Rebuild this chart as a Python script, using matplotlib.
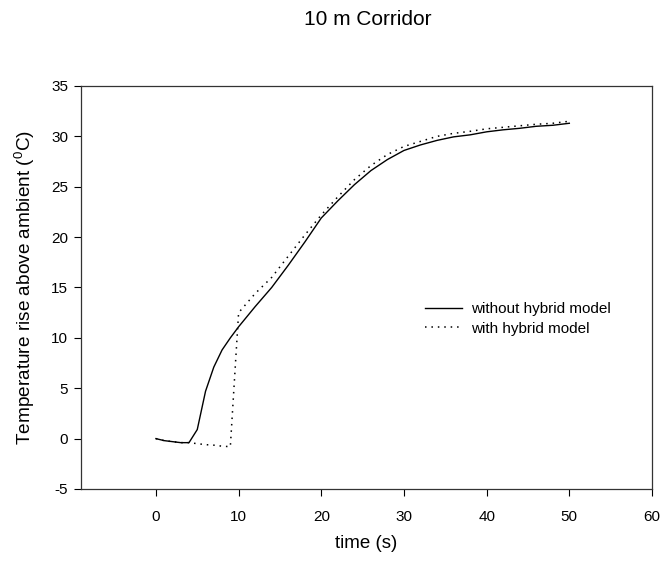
import matplotlib
matplotlib.use("Agg")
import matplotlib.pyplot as plt

# time (s) and temperature rise
time_without = [0, 1, 2, 3, 4, 5, 6, 7, 8, 9, 10, 12, 14, 16, 18, 20, 22, 24, 26,
                28, 30, 32, 34, 36, 38, 40, 42, 44, 46, 48, 50]
temp_without = [0.0, -0.2, -0.3, -0.4, -0.4, 0.9, 4.7, 7.1, 8.8, 10.0, 11.1, 13.1,
                15.0, 17.2, 19.5, 21.9, 23.6, 25.2, 26.6, 27.7, 28.6, 29.15, 29.6,
                29.95, 30.15, 30.45, 30.65, 30.8, 31.0, 31.1, 31.3]

time_with = [0, 1, 2, 3, 4, 5, 6, 7, 8, 9, 10, 12, 14, 16, 18, 20, 22, 24, 26,
             28, 30, 32, 34, 36, 38, 40, 42, 44, 46, 48, 50]
temp_with = [0.0, -0.2, -0.3, -0.4, -0.4, -0.5, -0.6, -0.65, -0.75, -0.8, 12.5, 14.4,
             16.0, 18.1, 20.2, 22.2, 24.0, 25.7, 27.1, 28.2, 29.0, 29.5, 30.0,
             30.3, 30.5, 30.75, 30.9, 31.05, 31.2, 31.3, 31.5]

x_ticks = [0, 10, 20, 30, 40, 50, 60]
y_ticks = [-5, 0, 5, 10, 15, 20, 25, 30, 35]

plt.rcParams.update({
    "font.family": ["Liberation Sans", "DejaVu Sans"],
    "mathtext.fontset": "custom",
    "mathtext.rm": "Liberation Sans",
    "mathtext.it": "Liberation Sans:italic",
    "axes.unicode_minus": False,
})

fig = plt.figure(figsize=(6.69, 5.62), dpi=100)
ax = fig.add_axes([0.1206, 0.1299, 0.854, 0.7171])

ax.plot(time_without, temp_without, color="black", linewidth=1.0,
        label="without hybrid model")
ax.plot(time_with, temp_with, color="black", linewidth=1.1,
        linestyle=(0, (1, 3.2)), label="with hybrid model")

ax.set_xlim(-9.1, 60)
ax.set_ylim(-5, 35)
ax.set_xticks(x_ticks)
ax.set_yticks(y_ticks)
ax.tick_params(axis="both", direction="out", length=5, width=0.8, labelsize=11)
ax.tick_params(axis="x", pad=10)
ax.tick_params(axis="y", pad=4)
for spine in ax.spines.values():
    spine.set_linewidth(0.9)
    spine.set_color("#333333")

ax.set_xlabel("time (s)", fontsize=13.5, labelpad=8)
ax.set_ylabel(r"Temperature rise above ambient ($^0$C)", fontsize=13.7, labelpad=10)
fig.suptitle("10 m Corridor", x=0.549, y=0.982, fontsize=15, va="top")

ax.legend(loc="center left", bbox_to_anchor=(0.603, 0.422), frameon=False,
          fontsize=11, borderpad=0, borderaxespad=0, handlelength=2.4,
          handletextpad=0.6, labelspacing=0.35)

fig.savefig("out.png", dpi=100)
